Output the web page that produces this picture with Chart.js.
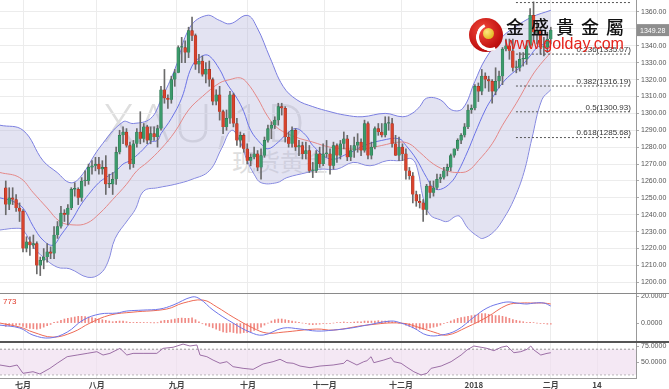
<!DOCTYPE html>
<html><head><meta charset="utf-8">
<script src="https://cdn.jsdelivr.net/npm/chart.js@4.4.0/dist/chart.umd.min.js"></script>
<style>
html,body{margin:0;padding:0;background:#fff;width:669px;height:389px;overflow:hidden;position:relative}
canvas{position:absolute;left:0}
.wm{position:absolute;color:#dedede;white-space:nowrap}
.ov{position:absolute;white-space:nowrap}
</style></head><body>
<div class="wm" style="left:104px;top:84px;font:300 54px 'Open Sans';letter-spacing:4px">XAU,1D</div>
<div class="wm" style="left:232px;top:143px;font:400 24px 'Noto Sans CJK SC'">现货黄金</div>
<canvas id="c1" width="669" height="294" style="top:0"></canvas>
<canvas id="c2" width="669" height="48" style="top:294px"></canvas>
<canvas id="c3" width="669" height="47" style="top:342px"></canvas>
<div class="ov" style="left:0;top:293px;width:669px;height:1px;background:#8a8a8a"></div>
<div class="ov" style="left:0;top:341px;width:669px;height:2px;background:#555"></div>
<div class="ov" style="left:3px;top:297px;font:8px 'Liberation Sans';color:#e03a2a">773</div>
<div class="ov" style="left:469px;top:18px;width:34px;height:34px;border-radius:50%;background:radial-gradient(circle at 40% 35%,#f2493a,#c01010 65%,#9e0a0a)"></div>
<div class="ov" style="left:476px;top:23px;width:22px;height:22px;border-radius:50%;border:3px solid #fff;border-right-color:transparent;border-top-color:transparent;transform:rotate(20deg)"></div>
<div class="ov" style="left:483px;top:28px;width:11px;height:11px;border-radius:50%;background:radial-gradient(circle at 35% 35%,#ffe680,#d8a800)"></div>
<div class="ov" style="left:506px;top:13px;font:500 18px 'Noto Sans CJK TC';letter-spacing:7px;color:#111">金盛貴金屬</div>
<div class="ov" style="left:505px;top:35px;font:16px 'Liberation Sans';color:#e5231b">www.golday.com</div>
<script>
// ---------- DATA ----------
const open=[1256,1246,1250,1249,1244,1242,1220,1224,1222,1223,1210,1213,1215,1218,1217,1228,1233,1241,1240,1244,
1255,1255,1250,1260,1260,1268,1269,1270,1267,1268,1258,1258,1261,1277,1287,1289,1281,1270,1282,1289,
1285,1292,1284,1288,1286,1291,1314,1309,1308,1320,1324,1339,1339,1336,1349,1346,1329,1331,1323,1326,
1320,1307,1311,1301,1292,1297,1311,1294,1284,1287,1279,1272,1274,1276,1268,1275,1284,1291,1293,1296,
1304,1303,1286,1282,1290,1280,1281,1276,1278,1266,1266,1276,1270,1276,1276,1269,1281,1275,1282,1285,
1274,1278,1281,1283,1278,1294,1275,1280,1291,1289,1287,1294,1294,1282,1275,1280,1276,1266,1263,1252,
1248,1247,1243,1257,1253,1256,1261,1262,1266,1268,1275,1279,1284,1287,1292,1302,1303,1316,1313,1322,
1320,1319,1313,1319,1322,1338,1340,1337,1327,1327,1332,1332,1340,1358,1348,1349,1339,1339,1344];
const high=[1260,1256,1256,1252,1247,1243,1227,1227,1228,1224,1215,1220,1223,1221,1233,1236,1245,1243,1246,1256,
1259,1256,1262,1266,1270,1272,1274,1274,1272,1275,1264,1265,1280,1290,1292,1291,1283,1284,1291,1301,
1294,1293,1292,1292,1293,1316,1326,1311,1322,1326,1340,1345,1343,1351,1357,1347,1335,1334,1330,1331,
1321,1314,1316,1302,1302,1313,1312,1297,1289,1288,1282,1276,1280,1278,1279,1286,1293,1295,1298,1306,
1306,1304,1289,1292,1291,1284,1283,1283,1281,1271,1278,1280,1282,1284,1279,1283,1282,1284,1289,1287,
1281,1286,1288,1285,1296,1295,1283,1292,1294,1294,1298,1298,1297,1287,1286,1282,1279,1268,1265,1254,
1252,1249,1258,1260,1260,1264,1264,1268,1270,1276,1279,1285,1288,1294,1305,1305,1317,1318,1326,1324,
1322,1320,1327,1325,1339,1344,1344,1344,1331,1336,1336,1343,1362,1366,1355,1350,1345,1348,1351];
const low=[1240,1243,1246,1242,1236,1218,1218,1216,1220,1205,1204,1208,1212,1214,1214,1226,1232,1236,1234,1243,
1251,1246,1248,1257,1258,1264,1266,1264,1264,1252,1256,1252,1258,1276,1282,1280,1267,1268,1280,1282,
1283,1282,1282,1284,1280,1290,1306,1303,1306,1316,1324,1330,1330,1333,1343,1326,1324,1322,1318,1316,
1305,1305,1296,1288,1290,1294,1292,1281,1280,1277,1270,1269,1273,1266,1261,1274,1283,1285,1291,1293,
1299,1283,1280,1280,1278,1275,1273,1273,1265,1262,1265,1268,1269,1274,1264,1267,1271,1273,1279,1272,
1272,1274,1277,1275,1277,1273,1273,1279,1287,1286,1286,1290,1280,1275,1272,1272,1261,1261,1247,1245,
1244,1236,1240,1250,1251,1255,1259,1261,1263,1266,1274,1278,1282,1286,1291,1300,1302,1307,1311,1315,
1313,1306,1311,1315,1317,1337,1332,1325,1324,1325,1328,1329,1339,1343,1341,1335,1334,1336,1341];
const close=[1246,1250,1249,1244,1242,1220,1224,1222,1223,1210,1213,1215,1218,1217,1228,1233,1241,1240,1244,1255,
1255,1250,1260,1260,1268,1269,1270,1267,1268,1258,1258,1261,1277,1287,1289,1281,1270,1282,1289,1285,
1292,1284,1288,1286,1291,1314,1309,1308,1320,1324,1339,1339,1336,1349,1346,1329,1331,1323,1326,1320,
1307,1311,1301,1292,1297,1311,1294,1284,1287,1279,1272,1274,1276,1268,1275,1284,1291,1293,1296,1304,
1303,1286,1282,1290,1280,1281,1276,1278,1266,1266,1276,1270,1276,1276,1269,1281,1275,1282,1285,1274,
1278,1281,1283,1278,1294,1275,1280,1291,1289,1287,1294,1294,1282,1275,1280,1276,1266,1263,1252,1248,
1247,1243,1257,1253,1256,1261,1262,1266,1268,1275,1279,1284,1287,1292,1302,1303,1316,1313,1322,1320,
1319,1313,1319,1322,1338,1340,1337,1327,1327,1332,1332,1340,1358,1348,1349,1339,1339,1344,1349.28];

// Bollinger / MA lines, read as [candle index, price]
const upperBand=[[-1.7,1293],[5,1290],[10.8,1272],[14.9,1265],[18.6,1259],[21.5,1262],[27.3,1280],[34,1295],[37,1294],[42,1297],[45,1308],[49,1326],[53.4,1351],[58.3,1358],[62,1355],[65,1353],[70,1358],[72.8,1351],[76.6,1333],[80.4,1316],[84.4,1308],[89,1304],[94,1301],[98.3,1299],[103.3,1298],[110,1300],[115,1298],[117.8,1300],[120,1304],[122,1309],[126,1308],[129.3,1302],[132.5,1303],[136,1319],[139,1332],[143.8,1345],[147.6,1351],[152.5,1357],[158,1361]];
const lowerBand=[[-1.7,1231],[3,1232],[5,1231],[8,1221],[10.8,1215],[14.9,1209],[18.6,1208],[23.8,1203],[27.3,1205],[29.6,1212],[31.7,1226],[35.4,1237],[37.5,1243],[40,1254],[44,1256],[49,1258],[54,1261],[59,1266],[62.5,1279],[65.5,1290],[68,1283],[70,1272],[72,1264],[74,1259],[78.6,1259],[81.5,1262],[87.3,1265],[91,1267],[96,1267],[100.7,1271],[105.6,1269],[110.5,1272],[114.3,1272],[117.8,1273],[119.5,1266],[121,1250],[123,1240],[126,1237],[128,1236],[130.3,1239],[131.7,1239],[134,1232],[137,1227],[138.3,1226],[141.5,1230],[144.4,1238],[147.3,1249],[150.2,1265],[152.5,1285],[155.4,1308],[158,1314]];
const midBand=[[-1.7,1265],[4,1262],[8,1253],[12,1244],[15.7,1236],[19.5,1234],[23.5,1235],[27.3,1241],[31,1249],[35,1258],[38,1266],[41,1271],[45,1279],[49,1289],[53,1302],[57,1310],[62,1318],[65,1320],[68,1321],[70,1318],[73,1309],[76,1298],[79,1291],[84,1286],[89,1283],[94,1280],[99,1279],[104,1279],[109,1281],[114,1283],[117,1282],[120,1277],[124,1270],[128,1266],[131,1265],[134,1266],[137,1272],[141,1282],[144,1293],[148,1306],[152.5,1322],[155,1329],[158,1336]];
const innerMA=[[-1.7,1250],[2,1248],[5,1244],[8,1233],[10.8,1225],[13.7,1222],[16,1228],[19.5,1238],[21.5,1245],[24,1252],[27,1259],[29,1262],[32,1266],[34,1270],[36,1272],[39,1277],[42,1283],[44,1284],[45,1288],[48,1297],[51,1309],[54,1328],[57,1334],[59,1334],[62,1326],[64,1318],[67,1309],[69,1301],[71,1290],[74,1282],[76,1279],[79,1283],[81,1287],[84,1291],[87,1287],[89,1281],[94,1273],[99,1276],[104,1281],[109,1284],[114,1285],[116,1281],[119,1273],[122,1262],[124,1256],[126,1255],[129,1259],[131,1265],[134,1278],[136,1288],[139,1302],[141,1309],[144,1318],[147,1324],[149,1327],[152,1334],[154,1339],[156,1341],[158,1343]];

const fibRatios=['0','0.236','0.382','0.5','0.618'];
const fibLevels=[1365.59,1335.07,1316.19,1300.93,1285.68];

const macdDif=[[-1.7,-1.5],[4.1,-3.7],[7.9,-8.9],[12.8,-11],[17.8,-6.7],[22.4,2.2],[27.3,6.7],[32.2,7.4],[35.1,8.9],[39.8,9.6],[44.7,10.4],[48.5,13.3],[54,19.3],[56.3,17.8],[60.1,9.6],[65.9,0],[70.8,-6.7],[74.6,-8.9],[80.4,-3.7],[85.3,-4.4],[90.2,-5.9],[94.9,-5.2],[100,-3.7],[104.7,-1.5],[111.7,1.5],[114.6,0],[118.3,-3.7],[122.1,-8.9],[126.2,-8.9],[130.8,-5.2],[135.7,4.4],[139.5,11.1],[143.6,14.8],[145.9,15.6],[148.2,14.8],[151.1,14.1],[153.1,14.8],[156,14.8],[158,12.6]];
const macdDea=[[-1.7,0],[4.1,-3],[7.9,-6.7],[13.7,-10.4],[19.5,-6.7],[24.4,0],[30.2,5.9],[36.9,8.1],[46.7,10.4],[51.4,14.8],[57.2,17],[61.2,11.9],[65.9,4.4],[71.7,-3.7],[75.7,-7.4],[80.4,-6.7],[90.2,-4.4],[94.9,-5.2],[104.7,-1.5],[114.6,0],[120.4,-3.7],[124.1,-6.7],[127.9,-8.9],[133.7,-3],[139.5,4.4],[145.3,13.3],[149.3,14.8],[153.1,14.8],[156,14.8],[158,14.1]];
const macdHist=[-2.5,-2,-1.8,-1.5,-1.5,-2.5,-3.5,-4,-4.2,-4.5,-4,-3,-2,-1,0.5,1,2,3,3.5,4,4.5,5,5,4.8,4.5,4,3.5,3,2.5,2,1.5,1,1.2,1.5,1.5,1,0.5,0.5,0.5,0.5,0.5,0.3,0.2,0.1,0.2,1.5,2,2,2.5,3,3.5,3.7,3.5,3.5,3.8,
2.5,1,-0.5,-1.5,-2.5,-3.5,-4.5,-5.5,-6.5,-7,-6.5,-7,-7.5,-7.5,-7,-7,-6.5,-5.5,-4.5,-3,-1.5,0,1.5,2.5,3,3,2.5,2,1.5,1,0.5,0,-0.5,-1,-1.2,-1,-0.8,-0.5,-0.5,-0.5,0,0.3,0.5,0.8,0.5,
0.5,0.8,1,1,1.5,1.5,1.5,1.5,1.8,1.5,1.5,1.5,1,0.5,0,-0.5,-1.5,-2.5,-3.5,-4,-4.5,-4.5,-4,-3.5,-3,-2.5,-1.5,-0.5,0.5,1.5,2.5,3.5,4,4.5,5,5.5,6,6.5,7,7,6.5,6,5.5,5.5,5,4.5,3.5,2.5,2,1.5,1,0.5,0.5,0.3,0,-0.3,-0.5,-0.8,-0.8];
const rsi=[[-1.7,45.3],[1.2,42.7],[3.3,45.3],[5,32.3],[7.9,34.8],[9.9,31.3],[12.8,40.1],[14.9,48],[17.8,58.3],[20.7,60.9],[23.6,63.5],[26.4,66.1],[28.2,60.9],[30.2,63.5],[33.1,71.3],[35.1,60.9],[36.9,63.5],[39.8,63.5],[43.8,63.5],[45.6,71.3],[48.5,73],[51.4,78],[53.4,75],[55.4,76.6],[56.3,60.9],[58.3,58.3],[60.1,53],[62.1,48],[64.1,50.5],[65.9,42.7],[68.8,40.1],[71.7,38.5],[74.6,46.9],[77.5,50.5],[79.5,54.2],[81.5,48.9],[83.3,48],[85.3,43.7],[88.2,41.1],[91.1,43.7],[94.9,45.3],[98,48],[98.9,53.1],[101.8,45.3],[103.8,50.5],[104.7,52],[105.9,58.3],[106.7,48.9],[109.6,53.1],[111.7,56.8],[112.5,50.5],[114.6,48],[116.3,41.7],[118.3,34.8],[120.4,29.7],[122.1,32.3],[123.3,40.1],[126.2,43.7],[129.1,50.5],[132,60.9],[133.7,68.8],[135.7,75],[137.8,73],[139.5,71.3],[141.5,67.7],[143.6,73],[145.3,75],[147.3,64.5],[149.3,66.1],[151.1,69.8],[152.2,75],[153.1,68.8],[155.1,60.9],[156.9,63.5],[158,64.5]];

const priceTicks=[1200,1210,1220,1230,1240,1250,1260,1270,1280,1290,1300,1310,1320,1330,1340,1350,1360];
const macdTicks=[0,20];
const rsiTicks=[50,75];
const rsiBands=[70,30];
const tickPos=[5,26.4,49.6,70.2,92.5,114.6,135.7,158,171.4];
const tickLbl=['七月','八月','九月','十月','十一月','十二月','2018','二月','14'];

// ---------- LAYOUT ----------
const XMIN=-1.67, XMAX=182.7, AXW=33;
const FIB_X0=147.9, FIB_X1=181.5;
const pts=a=>a.map(([x,y])=>({x,y}));
const base={responsive:false,animation:false,devicePixelRatio:1,events:[],layout:{padding:0},
  plugins:{legend:{display:false},tooltip:{enabled:false}}};

function xAxis(show){
  return {type:'linear',min:XMIN,max:XMAX,offset:false,
    afterBuildTicks:s=>{s.ticks=tickPos.map(v=>({value:v}));},
    ticks:{display:show,autoSkip:false,maxRotation:0,padding:2,color:'#444',
      font:{family:"'Noto Sans CJK SC'",size:8,weight:'bold'},callback:(v,i)=>tickLbl[i]},
    grid:{color:'#ececec',drawTicks:false,offset:false},
    border:{display:show,color:'#999'},
    afterFit:s=>{s.paddingLeft=0;s.paddingRight=0;s.height=show?11:0;}};
}
function yAxis(min,max,ticks,dec,gridOn){
  return {position:'right',min,max,
    afterBuildTicks:s=>{s.ticks=ticks.map(v=>({value:v}));},
    ticks:{autoSkip:false,padding:2,color:'#555',font:{family:"'Liberation Sans'",size:7},callback:v=>v.toFixed(dec)},
    grid:{color:'#ececec',drawOnChartArea:gridOn,tickLength:3,tickColor:'#aaa'},
    border:{color:'#999'},
    afterFit:s=>{s.width=AXW;s.paddingTop=0;s.paddingBottom=0;}};
}
const lineDs=(d,color,order,extra)=>Object.assign({type:'line',data:pts(d),borderColor:color,borderWidth:1,pointRadius:0,tension:0.4,fill:false,order},extra||{});

const up='#3b9a6b', dn='#d8432d';
const bodies=close.map((c,i)=>({x:i,y:[open[i],c]}));
const wicks=close.map((c,i)=>({x:i,y:[low[i],high[i]]}));
const bodyCol=close.map((c,i)=>c>=open[i]?up:dn);
const bodyBor=close.map((c,i)=>c>=open[i]?'#2a6e4c':'#9c2a1c');

const fibDs=fibLevels.map(L=>({type:'line',data:[{x:FIB_X0,y:L},{x:FIB_X1,y:L}],borderColor:'#555',borderWidth:1,borderDash:[2,2],pointRadius:0,fill:false,order:1}));

const deco={id:'deco',afterDraw(c){
  const ctx=c.ctx,y=c.scales.y,x=c.scales.x;
  ctx.save();
  ctx.font="8px 'Liberation Sans'";ctx.fillStyle='#333';ctx.textAlign='right';ctx.textBaseline='bottom';
  fibLevels.forEach((L,k)=>{if(k===0)return;ctx.fillText(fibRatios[k]+'('+L.toFixed(2)+')',x.getPixelForValue(FIB_X1)-1,y.getPixelForValue(L)-0.5);});
  const last=close[close.length-1],py=y.getPixelForValue(last);
  ctx.fillStyle='#8e8e8e';ctx.fillRect(c.chartArea.right+1,py-6,AXW-1,12);
  ctx.fillStyle='#fff';ctx.textAlign='left';ctx.textBaseline='middle';ctx.font="7px 'Liberation Sans'";
  ctx.fillText(last.toFixed(2),c.chartArea.right+4,py+0.5);
  ctx.restore();}};

new Chart(document.getElementById('c1'),{type:'line',
  data:{datasets:[
    lineDs(upperBand,'#7b7fe0',10,{fill:'+1',backgroundColor:'rgba(185,185,222,0.4)'}),
    lineDs(lowerBand,'#7b7fe0',10),
    lineDs(midBand,'#e48888',9),
    lineDs(innerMA,'#6a72e6',9),
    {type:'bar',data:wicks,backgroundColor:'#6a6a6a',barThickness:1,grouped:false,order:3},
    {type:'bar',data:bodies,backgroundColor:bodyCol,borderColor:bodyBor,borderWidth:0.5,barThickness:2.8,minBarLength:1,grouped:false,order:2},
    ...fibDs]},
  options:Object.assign({},base,{scales:{x:xAxis(false),y:yAxis(1193.1,1367.1,priceTicks,2,true)}}),
  plugins:[deco]});

new Chart(document.getElementById('c2'),{type:'line',
  data:{datasets:[
    {type:'bar',data:macdHist.map((h,i)=>({x:i,y:h})),backgroundColor:'#f08a84',barThickness:1,grouped:false,order:5},
    lineDs(macdDif,'#6f76e8',1),
    lineDs(macdDea,'#ee6a55',2)]},
  options:Object.assign({},base,{scales:{x:xAxis(false),y:yAxis(-14,21.5,macdTicks,4,false)}})});

new Chart(document.getElementById('c3'),{type:'line',
  data:{datasets:[
    {type:'line',data:[{x:XMIN,y:rsiBands[0]},{x:XMAX,y:rsiBands[0]}],borderColor:'#999',borderWidth:1,borderDash:[2,2],pointRadius:0,fill:'+1',backgroundColor:'rgba(240,222,240,0.7)',order:5},
    {type:'line',data:[{x:XMIN,y:rsiBands[1]},{x:XMAX,y:rsiBands[1]}],borderColor:'#999',borderWidth:1,borderDash:[2,2],pointRadius:0,fill:false,order:5},
    lineDs(rsi,'#9c6fa6',1,{tension:0})]},
  options:Object.assign({},base,{scales:{x:xAxis(true),y:yAxis(25,81.25,rsiTicks,4,false)}})});
</script>
</body></html>
